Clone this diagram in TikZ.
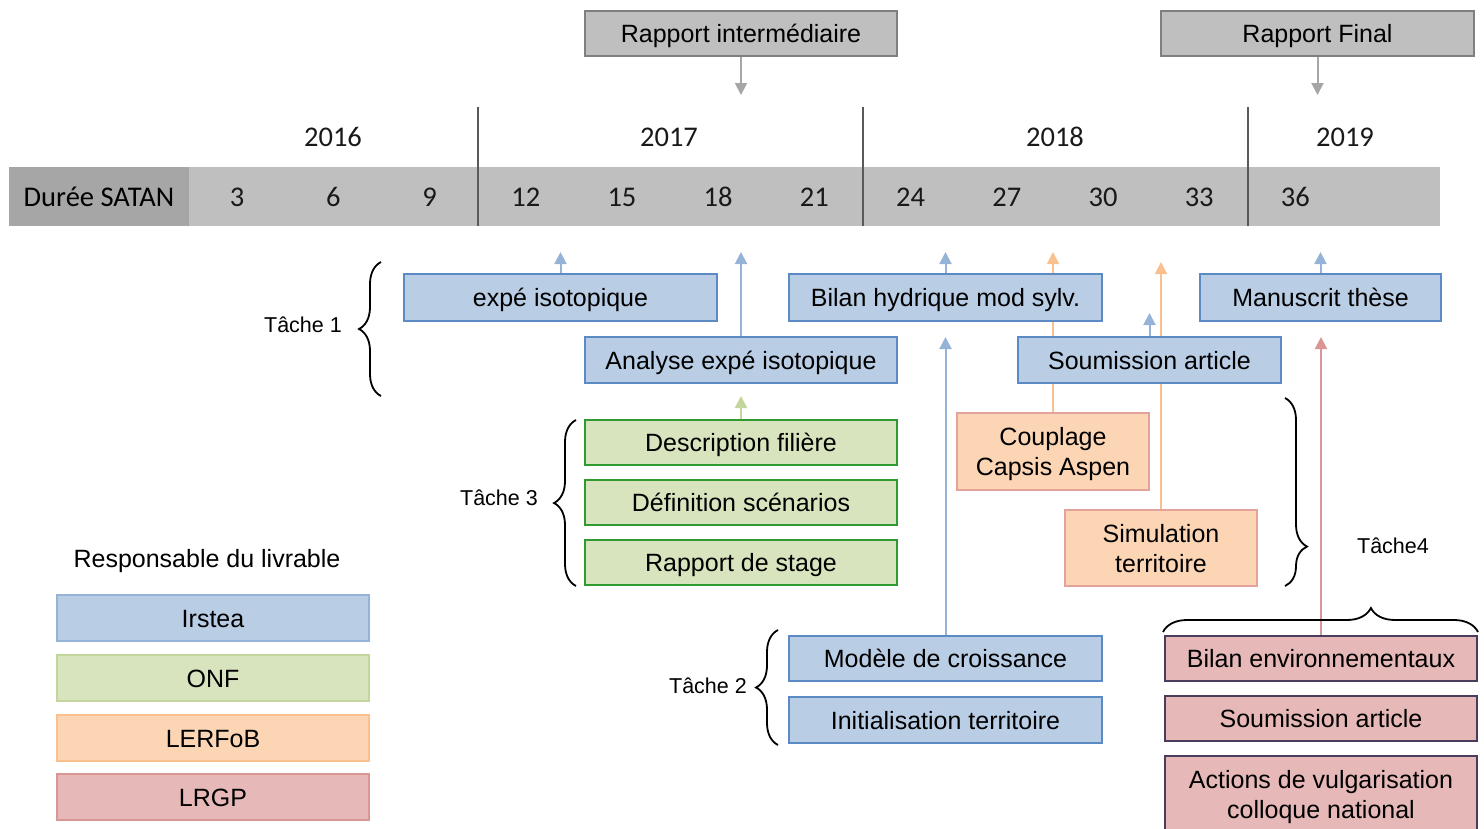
\documentclass[tikz,border=0pt]{standalone}
\usepackage{fontspec}
\setmainfont{Liberation Sans}
\newfontfamily\calfont{Carlito}
\usetikzlibrary{arrows.meta,positioning,decorations.pathreplacing,backgrounds}
\definecolor{irFill}{HTML}{B9CDE5}
\definecolor{irLine}{HTML}{5B8AC5}
\definecolor{irArrow}{HTML}{95B3D7}
\definecolor{onfFill}{HTML}{D7E4BD}
\definecolor{onfLine}{HTML}{2F9A2F}
\definecolor{onfArrow}{HTML}{C3D69B}
\definecolor{lerFill}{HTML}{FCD5B5}
\definecolor{lerLine}{HTML}{E3A29C}
\definecolor{lerArrow}{HTML}{FAC090}
\definecolor{lrgFill}{HTML}{E6B9B8}
\definecolor{lrgLine}{HTML}{4A3D5C}
\definecolor{lrgArrow}{HTML}{D99694}
\definecolor{barDark}{HTML}{A6A6A6}
\definecolor{barLight}{HTML}{BFBFBF}
\newcommand\boxfont{\fontsize{25}{30}\selectfont}
\newcommand\tachefont{\fontsize{21.5}{26}\selectfont}
\newcommand\timefont{\calfont\fontsize{28.5}{32}\selectfont}
\tikzset{
  % a deliverable box, coloured after the partner in charge
  livbox/.style   = {rectangle, inner sep=0pt, align=center, font=\boxfont, line width=1.8pt,
                     text height=18pt, text depth=0pt,
                     minimum width=312pt, minimum height=45pt},
  % same, with two lines of text
  twolines/.style = {text height=48pt},
  irbox/.style    = {livbox, fill=irFill, draw=irLine},
  onfbox/.style   = {livbox, fill=onfFill, draw=onfLine},
  lerbox/.style   = {livbox, twolines, fill=lerFill, draw=lerLine, minimum width=192pt, minimum height=77pt},
  lrgbox/.style   = {livbox, fill=lrgFill, draw=lrgLine},
  % report boxes on top
  graybox/.style  = {livbox, fill=barLight, draw=black!50, line width=1.5pt},
  % legend boxes
  legbox/.style   = {livbox, line width=2pt, minimum height=46pt},
  % timeline cells and texts
  barcell/.style  = {rectangle, inner sep=0pt, minimum height=59pt, font=\timefont},
  timetext/.style = {inner sep=0pt, font=\timefont, text=black!90},
  divider/.style  = {line width=1.5pt, draw=black!65},
  % arrows up to the timeline
  larrow/.style   = {line width=2pt, -{Triangle[length=12pt,width=12pt]}},
  irarrow/.style  = {larrow, draw=irArrow, fill=irArrow},
  onfarrow/.style = {larrow, draw=onfArrow, fill=onfArrow},
  lerarrow/.style = {larrow, draw=lerArrow, fill=lerArrow},
  lrgarrow/.style = {larrow, draw=lrgArrow, fill=lrgArrow},
  grayarrow/.style= {larrow, draw=barDark, fill=barDark},
  % task braces
  tbrace/.style   = {line width=1.8pt, decorate, decoration={brace, amplitude=22pt}},
  tlabel/.style   = {inner sep=0pt, font=\tachefont},
}

\begin{document}
\begin{tikzpicture}[x=1pt,y=-1pt]
  \useasboundingbox (0,0) rectangle (1484,828);

  % reports
  \node[graybox] (rInter) at (741,33.5) {Rapport intermédiaire};
  \node[graybox, minimum width=313pt] (rFinal) at (1317.5,33.5) {Rapport Final};
  \coordinate (tInter) at (741,95);
  \coordinate (tFinal) at (1317.5,95);
  \draw[grayarrow] (rInter) -- (tInter);
  \draw[grayarrow] (rFinal) -- (tFinal);

  % timeline
  \node[barcell, fill=barDark, minimum width=180pt] (duree) at (99,196.5) {Durée SATAN};
  \node[barcell, fill=barLight, minimum width=1251pt, right=0pt of duree] (bar) {};
  \foreach \m in {3,6,...,36}
    \node[timetext] (m\m) at ({140.9+32.07*\m},197) {\m};
  \node[timetext] (y2016) at (333,137) {2016};
  \node[timetext] (y2017) at (669,137) {2017};
  \node[timetext] (y2018) at (1055,137) {2018};
  \node[timetext] (y2019) at (1345,137) {2019};
  \foreach \x in {478,863,1248}
    \draw[divider] (\x,107) -- (\x,226);

  % Tache 1
  \node[irbox, minimum width=313pt, minimum height=47pt] (iso) at (560.5,297.5) {expé isotopique};
  \node[irbox, minimum height=46pt] (analyse) at (741,360) {Analyse expé isotopique};
  \node[irbox, minimum width=313pt, minimum height=47pt] (bilanH) at (945.5,297.5) {Bilan hydrique mod sylv.};
  \node[irbox, minimum width=241pt, minimum height=47pt] (manus) at (1320.5,297.5) {Manuscrit thèse};
  \node[irbox, minimum width=263pt, minimum height=46pt] (soumB) at (1149.5,360) {Soumission article};
  \draw[tbrace] (381,396) -- (381,262);
  \node[tlabel, anchor=east] (tache1) at (342,325) {Tâche 1};

  % Tache 3
  \node[onfbox] (descr) at (741,442.5) {Description filière};
  \node[onfbox] (defin) at (741,502.5) {Définition scénarios};
  \node[onfbox] (stage) at (741,562.5) {Rapport de stage};
  \draw[tbrace] (576,586) -- (576,420);
  \node[tlabel, anchor=east] (tache3) at (538,498) {Tâche 3};

  % Tache 2
  \node[irbox, minimum width=313pt] (modele) at (945.5,658.5) {Modèle de croissance};
  \node[irbox, minimum width=313pt, minimum height=46pt] (init) at (945.5,720) {Initialisation territoire};
  \draw[tbrace] (778,745) -- (778,630);
  \node[tlabel, anchor=east] (tache2) at (747,686) {Tâche 2};

  % Tache 4
  \node[lerbox] (coupl) at (1053,451.5) {Couplage\\Capsis Aspen};
  \node[lerbox, minimum height=76pt] (simul) at (1161,548) {Simulation\\territoire};
  \node[lrgbox] (bilanE) at (1321,658.5) {Bilan environnementaux};
  \node[lrgbox] (soumR) at (1321,718.5) {Soumission article};
  \node[lrgbox, twolines, minimum height=76pt] (actions) at (1321,794) {Actions de vulgarisation\\colloque national};
  \draw[tbrace, decoration={brace, amplitude=22pt, aspect=0.79}] (1285,398) -- (1285,586);
  \draw[tbrace, decoration={brace, amplitude=24pt, aspect=0.66}] (1163,632) -- (1478,632);
  \node[tlabel] (tache4) at (1393,546) {Tâche4};

  % arrows up to the months
  \coordinate (tIso) at (560.5,252);
  \coordinate (tAnalyse) at (741,252);
  \coordinate (tBilanH) at (945.5,252);
  \coordinate (tManus) at (1320.5,252);
  \coordinate (tSoumB) at (1149.5,313);
  \coordinate (tModele) at (945.5,337);
  \coordinate (tDescr) at (741,396);
  \coordinate (tCoupl) at (1053,252);
  \coordinate (tSimul) at (1161,262);
  \coordinate (tBilanE) at (1321,337);
  \begin{pgfonlayer}{background}
    \draw[irarrow] (iso) -- (tIso);
    \draw[irarrow] (analyse) -- (tAnalyse);
    \draw[irarrow] (bilanH) -- (tBilanH);
    \draw[irarrow] (manus) -- (tManus);
    \draw[irarrow] (soumB) -- (tSoumB);
    \draw[irarrow] (modele) -- (tModele);
    \draw[onfarrow] (descr) -- (tDescr);
    \draw[lerarrow] (coupl) -- (tCoupl);
    \draw[lerarrow] (simul) -- (tSimul);
    \draw[lrgarrow] (bilanE) -- (tBilanE);
  \end{pgfonlayer}

  % legend
  \node[font=\boxfont, inner sep=0pt, text height=18pt, text depth=0pt] (resp) at (207,558) {Responsable du livrable};
  \node[legbox, fill=irFill, draw=irArrow] (lIr) at (213,618) {Irstea};
  \node[legbox, fill=onfFill, draw=onfArrow, below=12pt of lIr] (lOnf) {ONF};
  \node[legbox, fill=lerFill, draw=lerArrow, below=12pt of lOnf] (lLer) {LERFoB};
  \node[legbox, fill=lrgFill, draw=lrgArrow, below=11pt of lLer] (lLrg) {LRGP};
\end{tikzpicture}
\end{document}
